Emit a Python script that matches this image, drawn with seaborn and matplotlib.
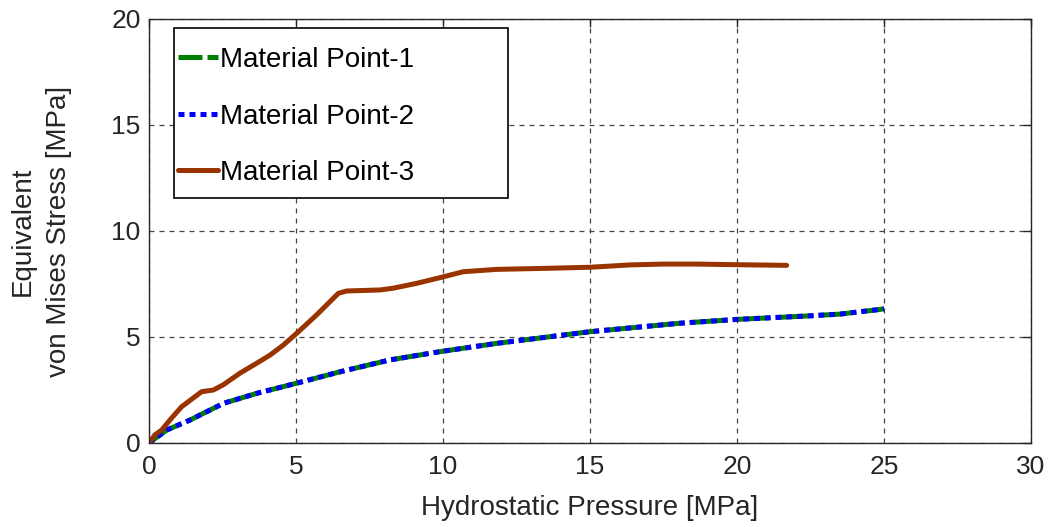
import numpy as np
import pandas as pd
import matplotlib
matplotlib.use("Agg")
import matplotlib.pyplot as plt
from matplotlib.patches import Rectangle
import seaborn as sns

# ---- data ----
p12_x = [0.0, 0.6, 1.39, 2.53, 3.66, 5.02, 6.5, 8.2, 9.9, 11.83, 15.0, 18.06, 19.99, 22.37, 23.5, 24.86, 25.0]
p12_y = [0.0, 0.61, 1.08, 1.87, 2.34, 2.82, 3.36, 3.92, 4.31, 4.7, 5.25, 5.65, 5.83, 5.99, 6.08, 6.3, 6.33]

p3_x = [0.0, 0.2, 0.43, 0.77, 1.11, 1.79, 2.19, 2.52, 3.1, 3.66, 4.12, 4.57, 5.02, 5.7, 6.44, 6.72,
        7.86, 8.3, 9.1, 9.9, 10.69, 11.83, 13.53, 15.0, 16.36, 17.49, 18.63, 19.99, 21.69]
p3_y = [0.0, 0.38, 0.61, 1.18, 1.71, 2.42, 2.5, 2.74, 3.3, 3.76, 4.15, 4.62, 5.17, 6.04, 7.06, 7.17,
        7.22, 7.3, 7.53, 7.8, 8.08, 8.19, 8.24, 8.29, 8.4, 8.44, 8.44, 8.41, 8.38]

labels = ["Material Point-1", "Material Point-2", "Material Point-3"]
x_ticks = [0, 5, 10, 15, 20, 25, 30]
y_ticks = [0, 5, 10, 15, 20]

sns.set_theme(style="white")
plt.rcParams['font.family'] = ['Liberation Sans', 'DejaVu Sans']
txt = "#262626"
plt.rcParams.update({
    "text.color": txt, "axes.labelcolor": txt,
    "xtick.color": txt, "ytick.color": txt,
})

fig = plt.figure(figsize=(10.49, 5.27), dpi=100)
ax = fig.add_axes([149/1049, 1-443/527, (1031-149)/1049, (443-19)/527])

LW = 3.6
sns.lineplot(x=p12_x, y=p12_y, ax=ax, color="#008000", linewidth=LW, sort=False,
             linestyle=(0, (7.6, 1.0)), label=labels[0])
sns.lineplot(x=p12_x, y=p12_y, ax=ax, color="#0000FF", linewidth=LW, sort=False,
             linestyle=(0, (1.15, 1.0)), label=labels[1])
sns.lineplot(x=p3_x, y=p3_y, ax=ax, color="#993300", linewidth=LW, sort=False,
             label=labels[2])

ax.set_xlim(0, 30)
ax.set_ylim(0, 20)
ax.set_xticks(x_ticks)
ax.set_yticks(y_ticks)
ax.tick_params(direction="in", length=6, width=1, top=True, right=True,
               labelsize=19, colors=txt)
ax.tick_params(axis="x", pad=9)
ax.tick_params(axis="y", pad=6)
ax.grid(True, color="#444444", linestyle=(0, (4, 4)), linewidth=0.9)
for s in ax.spines.values():
    s.set_color(txt)
    s.set_linewidth(1.0)
    s.set_visible(True)

ax.set_xlabel("Hydrostatic Pressure [MPa]", fontsize=20, labelpad=11)
ax.set_ylabel("Equivalent\nvon Mises Stress [MPa]", fontsize=20, labelpad=28,
              linespacing=1.55)

# legend (frame drawn separately to match the wide box)
handles, labs = ax.get_legend_handles_labels()
if ax.get_legend() is not None:
    ax.get_legend().remove()
leg = fig.legend(handles, labs, loc="upper left",
                 bbox_to_anchor=(178/1049, 1-47/527),
                 bbox_transform=fig.transFigure, borderaxespad=0,
                 fontsize=20, handlelength=1.45, handletextpad=0.08,
                 labelspacing=1.1, borderpad=0.0, frameon=False)
lh = leg.legend_handles
lh[0].set_linestyle((0, (4.8, 1.0)))
lh[1].set_linestyle((0, (1.2, 1.0)))
for t in leg.get_texts():
    t.set_color("#000000")
fig.add_artist(Rectangle((174/1049, 1-198/527), (508-174)/1049, (198-28)/527,
                         transform=fig.transFigure, facecolor="white",
                         edgecolor="#000000", linewidth=1.2, zorder=2.5))
leg.set_zorder(3)

fig.savefig("out.png", dpi=100)
